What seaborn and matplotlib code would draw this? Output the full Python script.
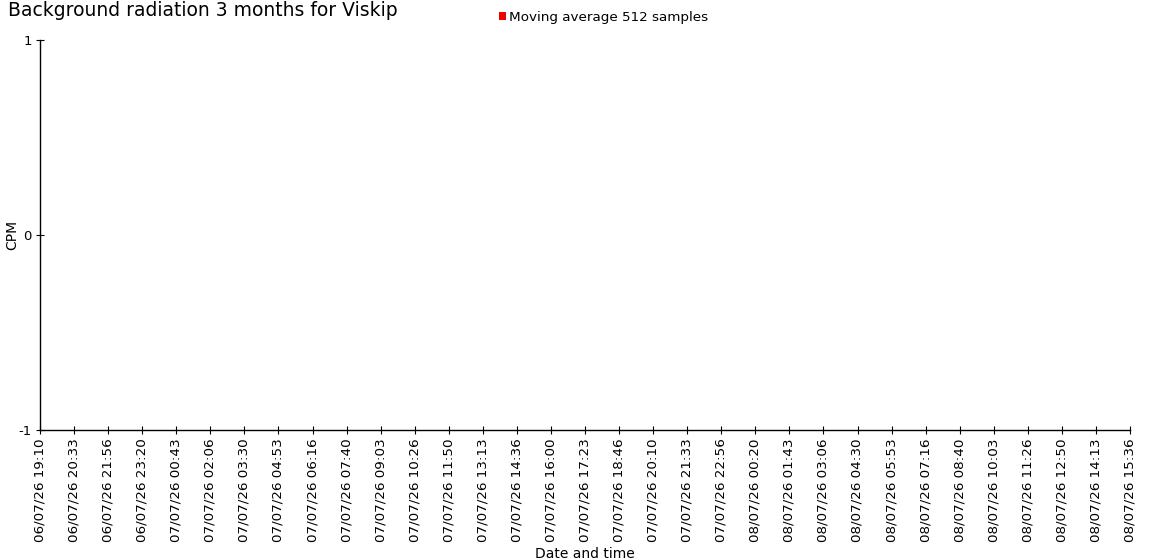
import matplotlib
matplotlib.use("Agg")
import matplotlib.pyplot as plt
from matplotlib.patches import Patch
import seaborn as sns
import pandas as pd
import numpy as np

title = "Background radiation 3 months for Viskip"
series_name = "Moving average 512 samples"
series_color = "#ee0000"
tick_labels = [
    "06/07/26 19:10", "06/07/26 20:33", "06/07/26 21:56", "06/07/26 23:20",
    "07/07/26 00:43", "07/07/26 02:06", "07/07/26 03:30", "07/07/26 04:53",
    "07/07/26 06:16", "07/07/26 07:40", "07/07/26 09:03", "07/07/26 10:26",
    "07/07/26 11:50", "07/07/26 13:13", "07/07/26 14:36", "07/07/26 16:00",
    "07/07/26 17:23", "07/07/26 18:46", "07/07/26 20:10", "07/07/26 21:33",
    "07/07/26 22:56", "08/07/26 00:20", "08/07/26 01:43", "08/07/26 03:06",
    "08/07/26 04:30", "08/07/26 05:53", "08/07/26 07:16", "08/07/26 08:40",
    "08/07/26 10:03", "08/07/26 11:26", "08/07/26 12:50", "08/07/26 14:13",
    "08/07/26 15:36",
]
# The series has no readable samples in the reference (empty chart)
cpm_times = []
cpm_values = []
y_ticks = [-1, 0, 1]

sns.set_theme(style="white")
plt.rcParams["font.family"] = ["DejaVu Sans"]

fig = plt.figure(figsize=(11.5, 5.6), dpi=100)
ax = fig.add_axes([40 / 1150, 1 - 430 / 560, 1090 / 1150, 390 / 560])

df = pd.DataFrame({"t": pd.Series(cpm_times, dtype=float),
                   "cpm": pd.Series(cpm_values, dtype=float)})
if len(df):
    sns.lineplot(data=df, x="t", y="cpm", color=series_color, ax=ax, legend=False)

ax.set_xlim(0, len(tick_labels) - 1)
ax.set_ylim(min(y_ticks), max(y_ticks))
ax.set_xticks(range(len(tick_labels)))
ax.set_xticklabels(tick_labels, rotation=90, fontsize=9.7)
ax.set_yticks(y_ticks)
ax.set_yticklabels([str(v) for v in y_ticks], fontsize=9.5)
ax.tick_params(axis="both", direction="inout", length=6, width=0.8,
               color="black", bottom=True, left=True, pad=3, labelcolor="black")

for s in ["top", "right"]:
    ax.spines[s].set_visible(False)
for s in ["left", "bottom"]:
    ax.spines[s].set_color("black")
    ax.spines[s].set_linewidth(1)

ax.set_xlabel("Date and time", fontsize=10, color="black")
ax.xaxis.set_label_coords(0.5, -117 / 390)
ax.set_ylabel("CPM", fontsize=10, color="black")
ax.yaxis.set_label_coords(-21 / 1090, 0.5)

fig.text(8 / 1150, 1 - 1 / 560, title, fontsize=13.5, va="top", ha="left", color="black")

handle = Patch(facecolor=series_color, edgecolor="none", label=series_name)
fig.legend(handles=[handle], loc="center left", bbox_to_anchor=(499 / 1150, 1 - 17 / 560),
           frameon=False, fontsize=9.7, handlelength=0.5, handleheight=0.5,
           handletextpad=0.25, borderpad=0, borderaxespad=0, labelcolor="black")

fig.savefig("out.png", dpi=100)
